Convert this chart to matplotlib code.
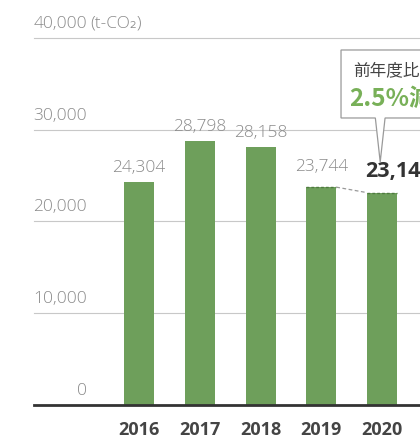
import matplotlib
matplotlib.use("Agg")
import matplotlib.pyplot as plt
from matplotlib.patches import Polygon

years = ["2016", "2017", "2018", "2019", "2020"]
emissions = [24304, 28798, 28158, 23744, 23146]
yticks = [0, 10000, 20000, 30000, 40000]
unit = "(t-CO₂)"
callout_top = "前年度比"
callout_pct = "2.5%減"

bar_green = "#6e9f5b"
pct_green = "#78b058"
grey_txt = "#8a8a8a"
num_font = ["Open Sans", "DejaVu Sans"]
jp_font = ["Noto Sans CJK JP", "DejaVu Sans"]

fig = plt.figure(figsize=(4.2, 4.41), dpi=100)
ax = fig.add_axes([0, 1 - 405 / 441, 1, 405 / 441])
ax.set_xlim(-2.288, 4.625)
ax.set_ylim(0, 44140)
ax.axis("off")

xs = list(range(len(years)))
grid_left = -1.73

# grid + baseline
for v in yticks[1:]:
    ax.plot([grid_left, 5], [v, v], color="#c8c8c8", lw=0.8, zorder=1, clip_on=False)
ax.plot([grid_left, 5], [0, 0], color="#333333", lw=2, zorder=3, clip_on=False)

# y labels
for v in yticks:
    ax.text(-0.86, v + 1100, f"{v:,}", ha="right", va="baseline", fontsize=12.5,
            color=grey_txt, family=num_font, fontweight="light")
ax.text(-0.80, yticks[-1] + 1100, unit, ha="left", va="baseline", fontsize=12.5,
        color=grey_txt, family=num_font, fontweight="light")

bars = ax.bar(xs, emissions, width=0.494, color=bar_green, zorder=2)

# value labels
for i, (x, v) in enumerate(zip(xs, emissions)):
    if i == len(xs) - 1:
        ax.annotate(f"{v:,}", (x - 0.28, v), xytext=(0, 8), textcoords="offset points",
                    ha="left", va="bottom", fontsize=15.5, fontweight="bold",
                    color="#333333", family=num_font)
    else:
        off = 9 if i == 3 else 4
        ax.annotate(f"{v:,}", (x, v), xytext=(0, off), textcoords="offset points",
                    ha="center", va="bottom", fontsize=12.5, color=grey_txt,
                    family=num_font, fontweight="light")

# dashed tops and connector between last two bars
w = 0.494 / 2
for x, v in zip(xs[3:], emissions[3:]):
    ax.plot([x - w, x + w], [v, v], color="#4f7a40", lw=1, ls=(0, (2, 1.5)), zorder=4)
ax.plot([xs[3] + w, xs[4] - w], [emissions[3], emissions[4]], color="#999999",
        lw=0.9, ls=(0, (3, 2)), zorder=4)

# callout box
tip_x, tip_y = xs[4] - 0.03, emissions[4] + 3340
box_l, box_b, box_t = 3.325, 31281, 38692
pts = [(box_l, box_b), (box_l, box_t), (5, box_t), (5, box_b),
       (tip_x + 0.08, box_b), (tip_x, tip_y), (tip_x - 0.08, box_b)]
ax.add_patch(Polygon(pts, closed=True, facecolor="white", edgecolor="#9a9a9a",
                     lw=0.9, zorder=5, clip_on=False))
ax.text(3.52, 36400, callout_top, ha="left", va="center", fontsize=12,
        color="#444444", family=jp_font, zorder=6)
ax.text(3.46, 33300, callout_pct, ha="left", va="center", fontsize=17.5,
        color=pct_green, fontweight="bold", family=jp_font, zorder=6)

for x, y in zip(xs, years):
    ax.text(x, -2700, y, ha="center", va="center", fontsize=13, fontweight="bold",
            color="#444444", family=num_font)

fig.savefig("out.png", dpi=100)
